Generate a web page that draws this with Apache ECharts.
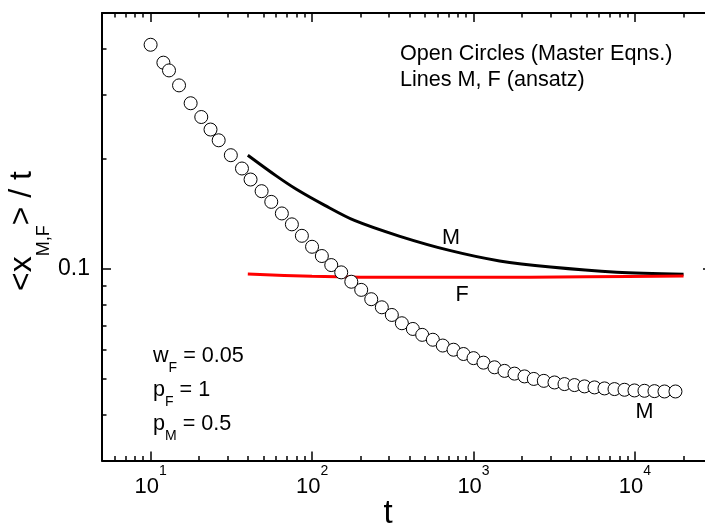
<!DOCTYPE html>
<html><head><meta charset="utf-8">
<script src="https://cdn.jsdelivr.net/npm/echarts@6/dist/echarts.min.js"></script>
<style>html,body{margin:0;padding:0;background:#fff}#c{width:705px;height:531px}</style>
</head><body><div id="c"></div>
<script>
// ---- data ----
const circleT = [10, 12, 13, 15, 17.7, 20.6, 23.5, 26.4, 31.4, 36.8, 41.6, 48.7, 55.9, 65, 75, 86.5, 100, 115, 131.5, 151.6, 175, 201.6, 232.6, 270.5, 312, 360, 421, 481, 560, 645, 752, 867, 1000, 1153, 1349, 1556, 1794, 2069, 2362, 2725, 3174, 3660, 4221, 4868, 5614, 6474, 7467, 8610, 9929, 11450, 13205, 15230, 17815];
const circleY = [0.4095, 0.3659, 0.3485, 0.3172, 0.2835, 0.2600, 0.2403, 0.2246, 0.2045, 0.1881, 0.1755, 0.1631, 0.1525, 0.1418, 0.1324, 0.1232, 0.1150, 0.1085, 0.1025, 0.0979, 0.0923, 0.0877, 0.0827, 0.0786, 0.0749, 0.0711, 0.0686, 0.0661, 0.0641, 0.0618, 0.0602, 0.0586, 0.0571, 0.0555, 0.0539, 0.0527, 0.0518, 0.0509, 0.0501, 0.0495, 0.0490, 0.0485, 0.0482, 0.0478, 0.0475, 0.0472, 0.0470, 0.0468, 0.0466, 0.0465, 0.0464, 0.0463, 0.0463];
const lineMT = [40, 60, 80, 120, 183, 350, 710, 1450, 3000, 7700, 20000];
const lineMY = [0.2045, 0.1796, 0.1651, 0.1492, 0.1357, 0.1228, 0.1124, 0.1052, 0.1012, 0.0980, 0.0967];
const lineFT = [40, 100, 200, 1000, 5000, 20000];
const lineFY = [0.0969, 0.0955, 0.0950, 0.0949, 0.0952, 0.0957];
const xRange = [5, 30000];
const yRange = [0.03, 0.5];
const xMajorTicks = [10, 100, 1000, 10000];
const xMinorTicks = [6, 7, 8, 9, 20, 30, 40, 50, 60, 70, 80, 90, 200, 300, 400, 500, 600, 700, 800, 900, 2000, 3000, 4000, 5000, 6000, 7000, 8000, 9000, 20000];
const yMajorTicks = [0.1];
const yMinorTicks = [0.04, 0.05, 0.06, 0.07, 0.08, 0.09, 0.2, 0.3, 0.4];
const yTickLabels = ['0.1'];

const FONT = "'Liberation Sans', Arial, sans-serif";
const chart = echarts.init(document.getElementById('c'), null, {renderer: 'canvas'});

function xAxisDef(pos, major, withLabel) {
  return {
    type: 'log', logBase: 10, min: xRange[0], max: xRange[1], position: pos,
    axisLine: {show: major, onZero: false, lineStyle: {color: '#000', width: 2}},
    axisTick: {show: true, inside: true, length: major ? 9 : 4.5,
      customValues: major ? xMajorTicks : xMinorTicks,
      lineStyle: {color: '#000', width: 1.5}},
    axisLabel: withLabel ? {
      show: true, customValues: xMajorTicks, margin: 4,
      formatter: v => '{b|10}{s|' + Math.round(Math.log10(v)) + '}',
      rich: {
        b: {fontSize: 22, lineHeight: 22, padding: [11, 0, 0, 0], verticalAlign: 'top', color: '#000', fontFamily: FONT},
        s: {fontSize: 14, lineHeight: 14, verticalAlign: 'top', color: '#000', fontFamily: FONT}
      }
    } : {show: false},
    splitLine: {show: false}, minorTick: {show: false}, minorSplitLine: {show: false}
  };
}
function yAxisDef(pos, major, withLabel) {
  return {
    type: 'log', logBase: 10, min: yRange[0], max: yRange[1], position: pos,
    axisLine: {show: major, onZero: false, lineStyle: {color: '#000', width: 2}},
    axisTick: {show: true, inside: true, length: major ? 9 : 4.5,
      customValues: major ? yMajorTicks : yMinorTicks,
      lineStyle: {color: '#000', width: 1.5}},
    axisLabel: withLabel ? {
      show: true, customValues: yMajorTicks, margin: 12,
      formatter: v => yTickLabels[yMajorTicks.indexOf(v)] || String(v),
      fontSize: 23, color: '#000', fontFamily: FONT
    } : {show: false},
    splitLine: {show: false}, minorTick: {show: false}, minorSplitLine: {show: false}
  };
}

const option = {
  animation: false,
  backgroundColor: '#fff',
  grid: {left: 102, right: -7, top: 13, bottom: 70.5, containLabel: false, outerBoundsMode: 'none'},
  xAxis: [xAxisDef('bottom', true, true), xAxisDef('bottom', false, false), xAxisDef('top', true, false), xAxisDef('top', false, false)],
  yAxis: [yAxisDef('left', true, true), yAxisDef('left', false, false), yAxisDef('right', true, false), yAxisDef('right', false, false)],
  series: [
    {type: 'line', data: lineMT.map((t, i) => [t, lineMY[i]]), smooth: 0.3, symbol: 'none',
     lineStyle: {color: '#000', width: 3}, z: 2},
    {type: 'line', data: lineFT.map((t, i) => [t, lineFY[i]]), smooth: 0.3, symbol: 'none',
     lineStyle: {color: '#ff0000', width: 3}, z: 3},
    {type: 'scatter', data: circleT.map((t, i) => [t, circleY[i]]), symbol: 'circle', symbolSize: 13,
     itemStyle: {color: '#fff', borderColor: '#000', borderWidth: 1, opacity: 1}, z: 4}
  ],
  graphic: [
    {type: 'text', x: 400, y: 41, style: {text: 'Open Circles (Master Eqns.)\nLines M, F (ansatz)',
      fontSize: 21.6, lineHeight: 26, fill: '#000', fontFamily: FONT, align: 'left', verticalAlign: 'top'}},
    {type: 'text', x: 153, y: 344.7, style: {
      text: '{n|w}{s|F}{n| = 0.05}\n{n|p}{s|F}{n| = 1}\n{n|p}{s|M}{n| = 0.5}',
      align: 'left', verticalAlign: 'top', fill: '#000', fontFamily: FONT,
      rich: {
        n: {fontSize: 21.6, lineHeight: 34, verticalAlign: 'top', fill: '#000', fontFamily: FONT},
        s: {fontSize: 14, lineHeight: 8, padding: [16.4, 0, 0, 0], verticalAlign: 'top', fill: '#000', fontFamily: FONT}
      }}},
    {type: 'text', x: 5.9, y: 231, rotation: Math.PI / 2, style: {
      text: '{m|<x}{s|M,F}{m|> / t}', align: 'center', verticalAlign: 'top', fill: '#000', fontFamily: FONT,
      rich: {
        m: {fontSize: 32, lineHeight: 32, verticalAlign: 'top', fill: '#000', fontFamily: FONT},
        s: {fontSize: 18, lineHeight: 18, padding: [28.9, 0, 0, 0], verticalAlign: 'top', fill: '#000', fontFamily: FONT}
      }}},
    {type: 'text', x: 388, y: 513.6, style: {text: 't', fontSize: 33, fill: '#000', fontFamily: FONT, align: 'center', verticalAlign: 'middle'}},
    {type: 'text', x: 451, y: 238.5, style: {text: 'M', fontSize: 21.6, fill: '#000', fontFamily: FONT, align: 'center', verticalAlign: 'middle'}},
    {type: 'text', x: 462, y: 295.5, style: {text: 'F', fontSize: 21.6, fill: '#000', fontFamily: FONT, align: 'center', verticalAlign: 'middle'}},
    {type: 'text', x: 644.5, y: 412.5, style: {text: 'M', fontSize: 21.6, fill: '#000', fontFamily: FONT, align: 'center', verticalAlign: 'middle'}}
  ]
};
chart.setOption(option);
</script>
</body></html>
